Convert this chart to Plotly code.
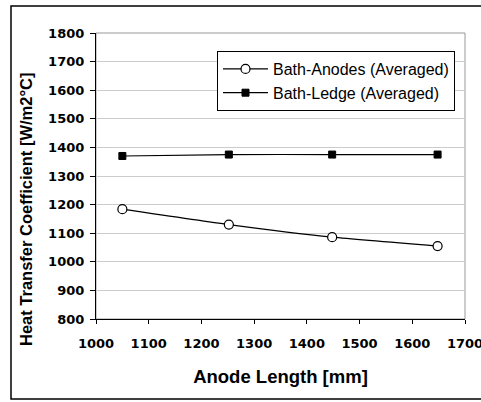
import plotly.graph_objects as go

anode_length = [1050, 1252, 1448, 1648]
bath_anodes = [1184, 1130, 1086, 1055]
bath_ledge = [1370, 1375, 1375, 1375]
x_ticks = [1000, 1100, 1200, 1300, 1400, 1500, 1600, 1700]
y_ticks = [800, 900, 1000, 1100, 1200, 1300, 1400, 1500, 1600, 1700, 1800]

fig = go.Figure()
fig.add_trace(go.Scatter(
    x=anode_length, y=bath_anodes, name="Bath-Anodes (Averaged)",
    mode="lines+markers", line=dict(color="black", width=1.2, shape="spline", smoothing=0.6),
    marker=dict(symbol="circle", size=9, color="white", line=dict(color="black", width=1.2)),
))
fig.add_trace(go.Scatter(
    x=anode_length, y=bath_ledge, name="Bath-Ledge (Averaged)",
    mode="lines+markers", line=dict(color="black", width=1.2, shape="spline", smoothing=0.6),
    marker=dict(symbol="square", size=7, color="black", line=dict(color="black", width=1)),
))

W, H = 481, 402
L, R, T, B = 96, 16, 33, 83
pw, ph = W - L - R, H - T - B

def px2x(p):
    return (p - L) / pw

def py2y(p):
    return 1 - (p - T) / ph

fig.add_shape(type="rect", xref="paper", yref="paper",
              x0=px2x(11), x1=px2x(490), y0=py2y(399), y1=py2y(6),
              line=dict(color="black", width=1.5), layer="below")
# gray frame on top/right of plot area
fig.add_shape(type="rect", xref="paper", yref="paper", x0=0, x1=1, y0=0, y1=1,
              line=dict(color="#999999", width=1), layer="below")

font_family = "Liberation Sans, Arial, sans-serif"
tick_family = "DejaVu Sans, sans-serif"

fig.add_annotation(text="<b>Heat Transfer Coefficient [W/m2°C]</b>", textangle=-90,
                   xref="paper", yref="paper", x=px2x(26), y=py2y(210),
                   xanchor="center", yanchor="middle", showarrow=False,
                   font=dict(size=16.5, family=font_family, color="black"))

fig.update_layout(
    width=W, height=H,
    margin=dict(l=L, r=R, t=T, b=B, autoexpand=False),
    paper_bgcolor="white", plot_bgcolor="white",
    font=dict(family=font_family, color="black"),
    showlegend=True,
    legend=dict(x=px2x(217), y=py2y(51), xanchor="left", yanchor="top",
                bgcolor="white", bordercolor="black", borderwidth=1,
                font=dict(size=16, family=font_family), tracegroupgap=0,
                itemwidth=45),
    xaxis=dict(range=[1000, 1700], tickvals=x_ticks, showgrid=False,
               showline=True, linecolor="black", linewidth=1.2,
               ticks="outside", ticklen=4, tickcolor="black",
               ticklabelstandoff=8, ticklabeloverflow="allow",
               tickfont=dict(size=13, family=tick_family, weight="bold"),
               title=dict(text="Anode Length [mm]", font=dict(size=18.5, weight="bold"), standoff=20),
               zeroline=False, automargin=False),
    yaxis=dict(range=[800, 1800], tickvals=y_ticks, showgrid=True, gridcolor="#cccccc", gridwidth=1,
               showline=True, linecolor="black", linewidth=1.2,
               ticks="outside", ticklen=5, tickcolor="black",
               ticklabelstandoff=3, ticklabeloverflow="allow",
               tickfont=dict(size=13, family=tick_family, weight="bold"),
               zeroline=False, automargin=False),
)

fig.write_html("out.html", config={"displayModeBar": False},
               post_script="document.body.style.margin='0';")
